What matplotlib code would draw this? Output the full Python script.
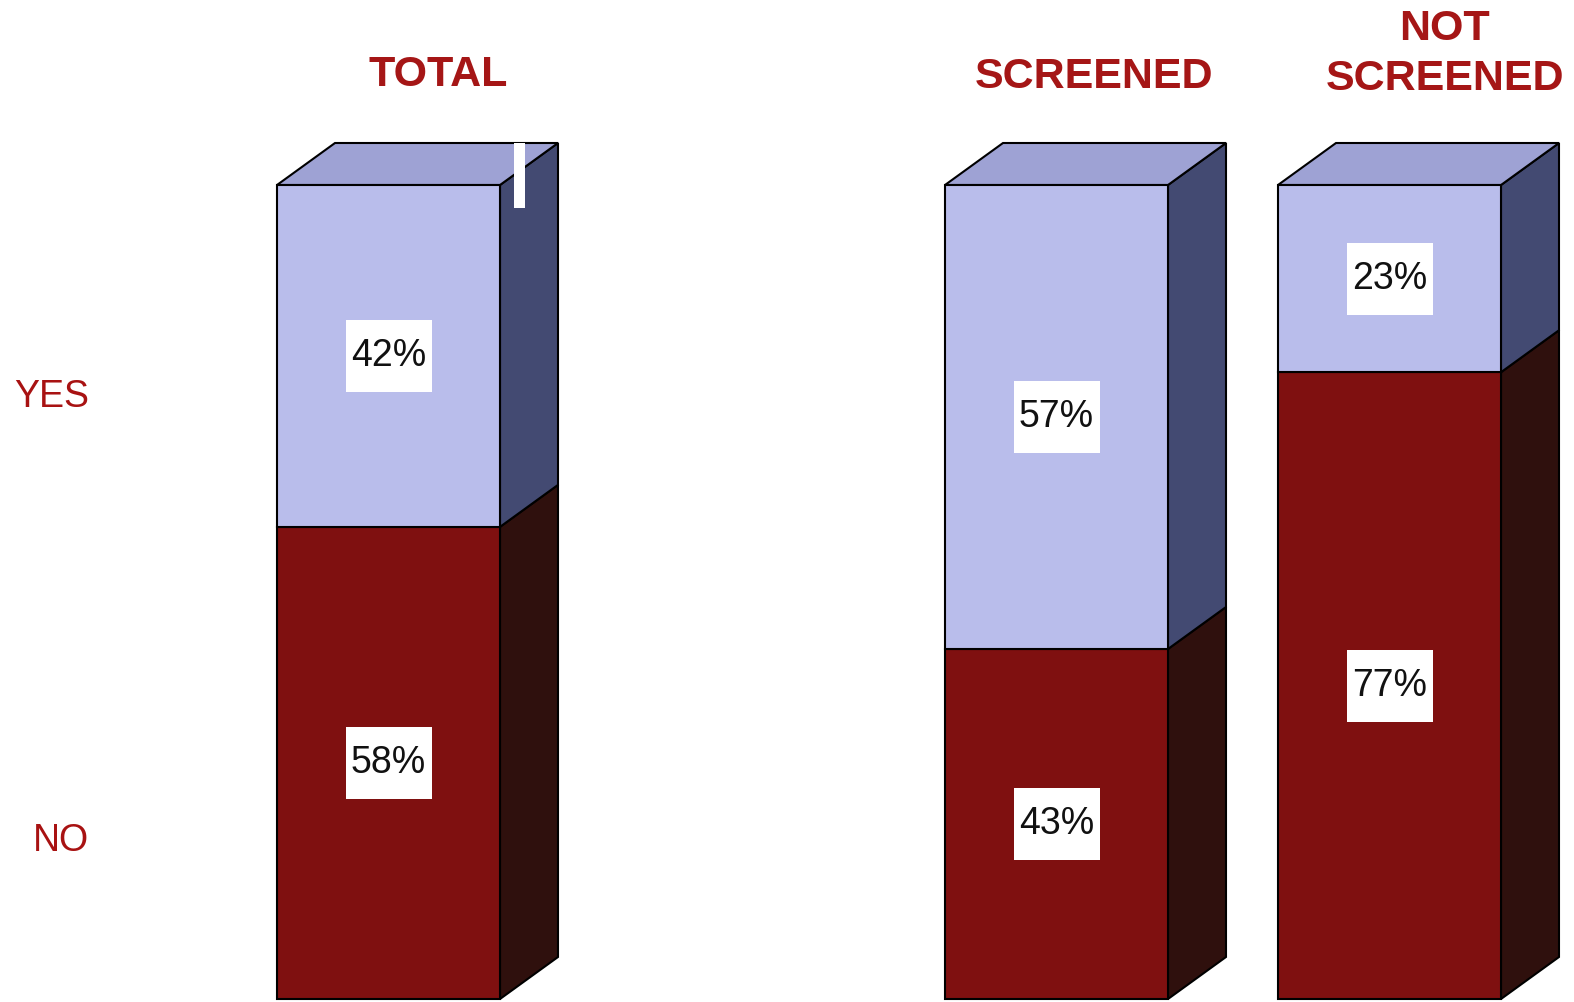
import matplotlib.pyplot as plt
from matplotlib.patches import Polygon, Rectangle

# stacked shares per group (percent)
groups = ['TOTAL', 'SCREENED', 'NOT\nSCREENED']
no_pct = [58, 43, 77]
yes_pct = [42, 57, 23]
row_labels = ['YES', 'NO']

plt.rcParams['font.family'] = ['Liberation Sans', 'DejaVu Sans']

fig = plt.figure(figsize=(15.74, 10.02), dpi=100)
ax = fig.add_axes([0, 0, 1, 1])
base = 999   # pixel row of the bar bottoms
ppu = 8.14   # pixels per percent on the vertical axis
ax.set_xlim(0, 1574)
ax.set_ylim(-(1002 - base) / ppu, base / ppu)
ax.axis('off')


def py(p):
    # pixel row -> data y
    return (base - p) / ppu


left = [277, 945, 1278]
width = 223
dx = 58
dy = 42 / ppu

blue_front, blue_top, blue_side = '#b9bdeb', '#9ea2d4', '#434a72'
red_front, red_side = '#7f1010', '#2f100d'
title_col = '#a51616'


def block(x0, y0, y1, front, side, top=None):
    x1 = x0 + width
    ax.add_patch(Polygon([(x1, y0), (x1 + dx, y0 + dy), (x1 + dx, y1 + dy), (x1, y1)],
                         closed=True, fc=side, ec='black', lw=1.5))
    if top is not None:
        ax.add_patch(Polygon([(x0, y1), (x0 + dx, y1 + dy), (x1 + dx, y1 + dy), (x1, y1)],
                             closed=True, fc=top, ec='black', lw=1.5))
    ax.add_patch(Rectangle((x0, y0), width, y1 - y0, fc=front, ec='black', lw=1.5))


def label(xc, yc, txt):
    bw, bh = 86, 72 / ppu
    ax.add_patch(Rectangle((xc - bw / 2, yc - bh / 2), bw, bh, fc='white', ec='none', zorder=3))
    ax.text(xc, yc, txt, ha='center', va='center', fontsize=27, color='#111111', zorder=4)


for i in range(len(groups)):
    x0 = left[i]
    block(x0, 0, no_pct[i], red_front, red_side)
    block(x0, no_pct[i], no_pct[i] + yes_pct[i], blue_front, blue_side, blue_top)
    xc = x0 + width / 2
    label(xc, no_pct[i] / 2, f'{no_pct[i]}%')
    label(xc, no_pct[i] + yes_pct[i] / 2, f'{yes_pct[i]}%')

# small white notch on the first bar's side
ax.add_patch(Rectangle((514, py(208)), 11, 65 / ppu, fc='white', ec='none', zorder=5))

# column titles
ax.text(438, py(75), groups[0], ha='center', va='center',
        fontsize=31, fontweight='bold', color=title_col)
ax.text(1094, py(77), groups[1], ha='center', va='center',
        fontsize=31, fontweight='bold', color=title_col)
ax.text(1445, py(54), groups[2], ha='center', va='center',
        fontsize=31, fontweight='bold', color=title_col, linespacing=1.32)

# row labels
ax.text(89, py(397), row_labels[0], ha='right', va='center',
        fontsize=27, color='#a81212')
ax.text(89, py(841), row_labels[1], ha='right', va='center',
        fontsize=27, color='#a81212')

fig.savefig('out.png', dpi=100, facecolor='white')
